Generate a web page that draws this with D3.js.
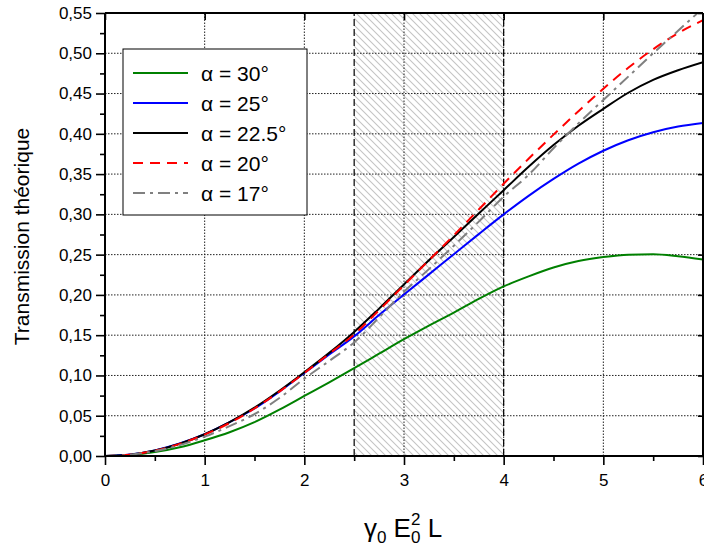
<!DOCTYPE html>
<html>
<head>
<meta charset="utf-8">
<script src="https://cdn.jsdelivr.net/npm/d3@7/dist/d3.min.js"></script>
<style>
  html, body { margin: 0; padding: 0; background: #fff; }
  svg { display: block; font-family: "Liberation Sans", Arial, sans-serif; }
</style>
</head>
<body>
<svg id="chart" width="704" height="547"></svg>
<script>
// ---- data ----
const xValues = [0, 0.25, 0.5, 0.75, 1, 1.25, 1.5, 1.75, 2, 2.25, 2.5, 2.75, 3, 3.25, 3.5, 3.75, 4, 4.25, 4.5, 4.75, 5, 5.25, 5.5, 5.75, 6];
const alpha30  = [0, 0.0012, 0.0048, 0.0108, 0.0195, 0.0295, 0.042, 0.0575, 0.0745, 0.0915, 0.109, 0.127, 0.145, 0.162, 0.178, 0.195, 0.2105, 0.223, 0.234, 0.242, 0.247, 0.250, 0.2505, 0.248, 0.244];
const alpha25  = [0, 0.0018, 0.007, 0.0155, 0.027, 0.042, 0.059, 0.080, 0.103, 0.126, 0.1485, 0.175, 0.2005, 0.2255, 0.2505, 0.2755, 0.300, 0.323, 0.344, 0.363, 0.379, 0.392, 0.402, 0.409, 0.4135];
const alpha225 = [0, 0.0017, 0.0068, 0.0153, 0.027, 0.042, 0.060, 0.081, 0.104, 0.128, 0.154, 0.183, 0.213, 0.243, 0.272, 0.301, 0.330, 0.359, 0.386, 0.410, 0.431, 0.451, 0.467, 0.479, 0.489];
const alpha20  = [0, 0.0017, 0.0067, 0.015, 0.0265, 0.041, 0.059, 0.080, 0.103, 0.127, 0.151, 0.181, 0.212, 0.243, 0.274, 0.306, 0.338, 0.369, 0.399, 0.428, 0.456, 0.482, 0.505, 0.525, 0.541];
const alpha17  = [0, 0.0015, 0.006, 0.0135, 0.024, 0.037, 0.052, 0.072, 0.096, 0.118, 0.141, 0.172, 0.204, 0.232, 0.261, 0.291, 0.322, 0.349, 0.382, 0.413, 0.442, 0.471, 0.500, 0.528, 0.556];
const seriesLabels = ["α = 30°", "α = 25°", "α = 22.5°", "α = 20°", "α = 17°"];
const xTicks = [0, 1, 2, 3, 4, 5, 6];
const yTicks = [0, 0.05, 0.10, 0.15, 0.20, 0.25, 0.30, 0.35, 0.40, 0.45, 0.50, 0.55];
const shadedRange = [2.5, 4];
const yTitle = "Transmission théorique";

// ---- styles ----
const seriesData = [alpha30, alpha25, alpha225, alpha20, alpha17];
const seriesColors = ["#008000", "#0000ff", "#000000", "#ff0000", "#808080"];
const seriesDash = [null, null, null, "10,7", "12,5,3,5"];

const svg = d3.select("#chart");
const x = d3.scaleLinear().domain([0, 6]).range([105, 703]);
const y = d3.scaleLinear().domain([0, 0.55]).range([456, 13]);

// hatch pattern
const defs = svg.append("defs");
const pat = defs.append("pattern").attr("id", "hatch").attr("patternUnits", "userSpaceOnUse")
  .attr("width", 7).attr("height", 7);
pat.append("path").attr("d", "M-1,-1 L8,8 M-1,6 L1,8 M6,-1 L8,1")
  .attr("stroke", "#c4c4c4").attr("stroke-width", 1.1).attr("fill", "none");
defs.append("clipPath").attr("id", "plotclip").append("rect")
  .attr("x", x(0)).attr("y", y(0.55)).attr("width", x(6) - x(0)).attr("height", y(0) - y(0.55));

// shaded region
svg.append("rect")
  .attr("x", x(shadedRange[0])).attr("y", y(0.55))
  .attr("width", x(shadedRange[1]) - x(shadedRange[0])).attr("height", y(0) - y(0.55))
  .attr("fill", "url(#hatch)");

// grid
const grid = svg.append("g").attr("stroke", "#222").attr("stroke-width", 1).attr("stroke-dasharray", "1.5,1.5");
xTicks.filter(v => v > 0 && v < 6).forEach(v => {
  grid.append("line").attr("x1", x(v)).attr("x2", x(v)).attr("y1", y(0)).attr("y2", y(0.55));
});
yTicks.filter(v => v > 0 && v < 0.55).forEach(v => {
  grid.append("line").attr("x1", x(0)).attr("x2", x(6)).attr("y1", y(v)).attr("y2", y(v));
});

// dashed boundaries
shadedRange.forEach(v => {
  svg.append("line").attr("x1", x(v)).attr("x2", x(v)).attr("y1", y(0)).attr("y2", y(0.55))
    .attr("stroke", "#000").attr("stroke-width", 1.2).attr("stroke-dasharray", "7,3");
});

// curves
const line = d3.line().x((d, i) => x(xValues[i])).y(d => y(d)).curve(d3.curveMonotoneX);
const curves = svg.append("g").attr("clip-path", "url(#plotclip)");
seriesData.forEach((s, k) => {
  curves.append("path").attr("d", line(s)).attr("fill", "none")
    .attr("stroke", seriesColors[k]).attr("stroke-width", 2)
    .attr("stroke-dasharray", seriesDash[k]);
});

// axes
const fmt = v => d3.format(".2f")(v).replace(".", ",");
const yMinor = d3.range(0.025, 0.55, 0.05);
const xMinor = d3.range(0.5, 6, 1);

const gL = svg.append("g").attr("transform", `translate(${x(0)},0)`);
gL.call(d3.axisLeft(y).tickValues(yTicks).tickFormat(fmt).tickSize(9).tickPadding(4));
gL.append("g").call(d3.axisLeft(y).tickValues(yMinor).tickFormat("").tickSize(5));

const gB = svg.append("g").attr("transform", `translate(0,${y(0)})`);
gB.call(d3.axisBottom(x).tickValues(xTicks).tickFormat(d3.format("d")).tickSize(9).tickPadding(9));
gB.append("g").call(d3.axisBottom(x).tickValues(xMinor).tickFormat("").tickSize(5));

const gT = svg.append("g").attr("transform", `translate(0,${y(0.55)})`);
gT.call(d3.axisBottom(x).tickValues(xTicks).tickFormat("").tickSize(7));
const gR = svg.append("g").attr("transform", `translate(${x(6)},0)`);
gR.call(d3.axisLeft(y).tickValues(yTicks).tickFormat("").tickSize(5));

[gL, gB, gT, gR].forEach(g => {
  g.selectAll("path.domain").attr("stroke", "#000").attr("stroke-width", 2);
  g.selectAll("line").attr("stroke", "#000").attr("stroke-width", 1.6);
  g.selectAll("text").attr("fill", "#000").style("font-size", "17px")
    .style("font-family", '"Liberation Sans", Arial, sans-serif');
});
gL.selectAll("path.domain").attr("d", `M0,${y(0)}V${y(0.55)}`);
gB.selectAll("path.domain").attr("d", `M${x(0)},0H${x(6)}`);
gT.selectAll("path.domain").attr("d", `M${x(0)},0H${x(6)}`);
gR.selectAll("path.domain").attr("d", `M0,${y(0)}V${y(0.55)}`);

// y title
svg.append("text").attr("transform", `translate(29,${(y(0) + y(0.55)) / 2 + 2}) rotate(-90)`)
  .attr("text-anchor", "middle").style("font-size", "21px").attr("fill", "#000").text(yTitle);

// x title: γ0 E0^2 L
const xt = svg.append("text").attr("y", 537).style("font-size", "26px").attr("fill", "#000");
const cx = 403;
xt.append("tspan").text("γ");
xt.append("tspan").text("0").style("font-size", "17px").attr("dy", 6);
xt.append("tspan").text("\u00a0E").attr("dy", -6);
const t4 = xt.append("tspan").text("2").style("font-size", "17px").attr("dy", -12);
const w4 = t4.node().getComputedTextLength();
xt.append("tspan").text("0").style("font-size", "17px").attr("dx", -w4).attr("dy", 18);
xt.append("tspan").text("\u00a0L").attr("dy", -6);
const totalW = xt.node().getComputedTextLength() - w4;
xt.attr("x", cx - totalW / 2);

// legend
const lg = svg.append("g");
lg.append("rect").attr("x", 123).attr("y", 49).attr("width", 184).attr("height", 166)
  .attr("fill", "#fff").attr("stroke", "#000").attr("stroke-width", 1);
seriesLabels.forEach((lab, k) => {
  const yy = 73 + k * 30;
  lg.append("line").attr("x1", 133).attr("x2", 188).attr("y1", yy).attr("y2", yy)
    .attr("stroke", seriesColors[k]).attr("stroke-width", 2).attr("stroke-dasharray", seriesDash[k]);
  lg.append("text").attr("x", 201).attr("y", yy + 8).style("font-size", "21px").attr("fill", "#000").text(lab);
});
</script>
</body>
</html>
